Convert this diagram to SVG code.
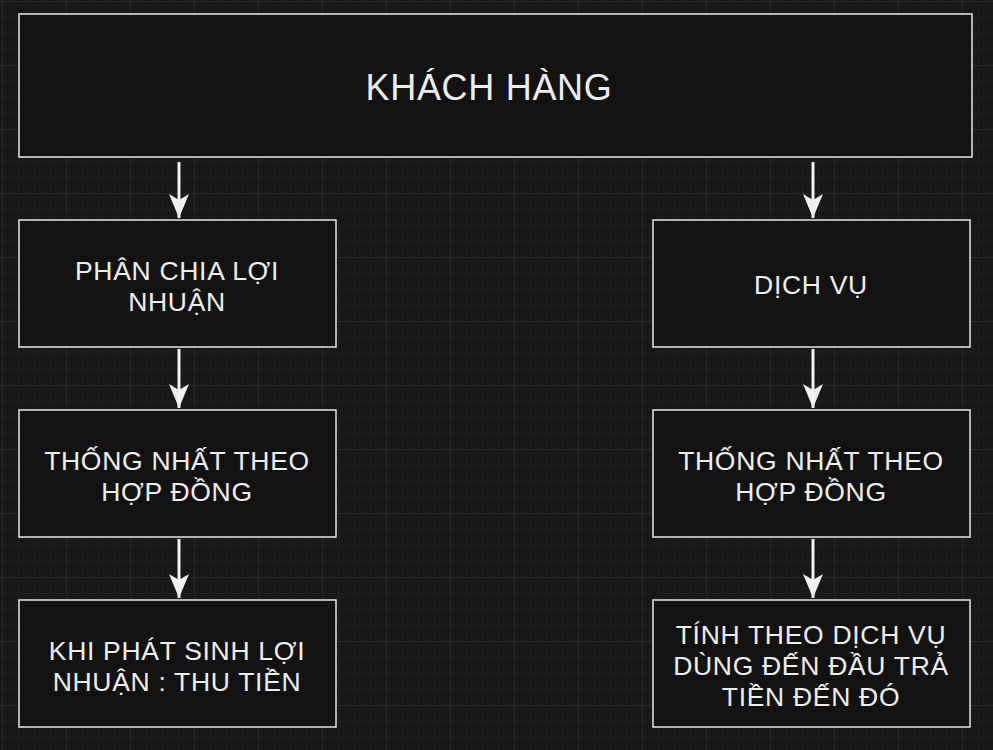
<svg xmlns="http://www.w3.org/2000/svg" width="993" height="750" viewBox="0 0 993 750">
<defs>
<pattern id="g" width="16" height="16" patternUnits="userSpaceOnUse" x="3" y="2"><path d="M16 0V16H0" fill="none" stroke="#252525" stroke-width="1"/></pattern>
<pattern id="G" width="64" height="64" patternUnits="userSpaceOnUse" x="3" y="2"><path d="M64 0V64H0" fill="none" stroke="#303030" stroke-width="1"/></pattern>
<marker id="h" viewBox="0 0 24 20" refX="24" refY="10" markerWidth="24" markerHeight="20" markerUnits="userSpaceOnUse" orient="auto"><path d="M0 0L24 10L0 20L6 10Z" fill="#f0f0f0"/></marker>
<style>
.b{fill:#121212;stroke:#e6e6e6;stroke-width:1.5}
.t{font-family:"Liberation Sans",Arial,sans-serif;font-size:26.5px;letter-spacing:0.7px;fill:#eeeeee;text-anchor:middle}
.c{stroke:#f0f0f0;stroke-width:3;fill:none;marker-end:url(#h)}
</style>
</defs>
<rect width="993" height="750" fill="#181818"/>
<rect width="993" height="750" fill="url(#g)"/>
<rect width="993" height="750" fill="url(#G)"/>
<g id="connectors">
<path class="c" d="M179 162V218"/>
<path class="c" d="M179 349V408"/>
<path class="c" d="M179 539V598"/>
<path class="c" d="M813 162V218"/>
<path class="c" d="M813 349V408"/>
<path class="c" d="M813 539V598"/>
</g>
<g id="khachhang"><rect class="b" x="19" y="14" width="953" height="143"/><text class="t" x="489" y="100" style="font-size:36px">KHÁCH HÀNG</text></g>
<g id="phanchia"><rect class="b" x="19" y="220" width="317" height="127"/><text class="t" x="177" y="280">PHÂN CHIA LỢI</text><text class="t" x="177" y="311">NHUẬN</text></g>
<g id="thongnhat1"><rect class="b" x="19" y="410" width="317" height="127"/><text class="t" x="177" y="470">THỐNG NHẤT THEO</text><text class="t" x="177" y="501">HỢP ĐỒNG</text></g>
<g id="khiphat"><rect class="b" x="19" y="600" width="317" height="127"/><text class="t" x="177" y="660">KHI PHÁT SINH LỢI</text><text class="t" x="177" y="691">NHUẬN : THU TIỀN</text></g>
<g id="dichvu"><rect class="b" x="653" y="220" width="317" height="127"/><text class="t" x="811" y="294">DỊCH VỤ</text></g>
<g id="thongnhat2"><rect class="b" x="653" y="410" width="317" height="127"/><text class="t" x="811" y="470">THỐNG NHẤT THEO</text><text class="t" x="811" y="501">HỢP ĐỒNG</text></g>
<g id="tinhtheo"><rect class="b" x="653" y="600" width="317" height="127"/><text class="t" x="811" y="644">TÍNH THEO DỊCH VỤ</text><text class="t" x="811" y="675">DÙNG ĐẾN ĐẦU TRẢ</text><text class="t" x="811" y="706">TIỀN ĐẾN ĐÓ</text></g>
</svg>
